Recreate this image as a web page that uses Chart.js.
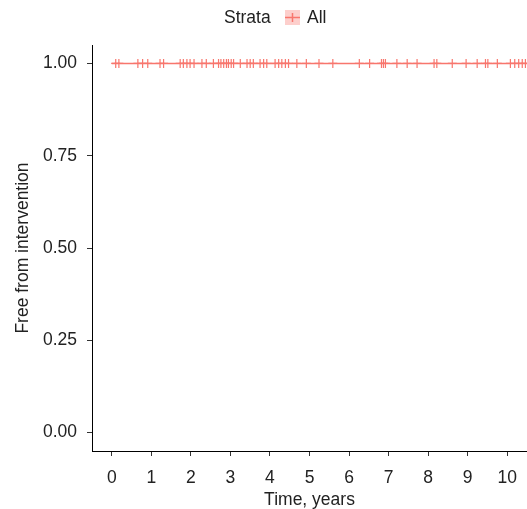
<!DOCTYPE html>
<html>
<head>
<meta charset="utf-8">
<script src="https://cdn.jsdelivr.net/npm/chart.js@4"></script>
<style>
  html, body { margin: 0; padding: 0; background: #fff; }
  #wrap { width: 527px; height: 509px; }
</style>
</head>
<body>
<div id="wrap"><canvas id="km"></canvas></div>
<script>
// KM curve (no events, stays at 1)
const kmTimes = [0, 10.5];
const kmSurv = [1, 1];
// censor marks
const censorTimes = [0.1, 0.18, 0.66, 0.78, 0.91, 1.22, 1.31, 1.73, 1.81, 1.9, 1.98, 2.08,
  2.28, 2.39, 2.57, 2.7, 2.76, 2.83, 2.9, 2.95, 3.02, 3.08, 3.25, 3.42, 3.5, 3.58,
  3.75, 3.84, 3.92, 4.13, 4.22, 4.3, 4.39, 4.47, 4.68, 4.92, 5.24, 5.59, 6.26, 6.52,
  6.82, 6.87, 6.92, 7.21, 7.47, 7.72, 8.15, 8.22, 8.61, 8.96, 9.24, 9.45, 9.51, 9.75,
  10.08, 10.19, 10.29, 10.38, 10.46];
const censorSurv = censorTimes.map(() => 1);
const xTicks = [0, 1, 2, 3, 4, 5, 6, 7, 8, 9, 10];
const yTicks = [0, 0.25, 0.5, 0.75, 1];
const RED = '#F8766D';
const FONT = 'Liberation Sans, Arial, sans-serif';
const FS = 17.5;

// legend drawn by hand, ggplot style
const strataLegend = {
  id: 'strataLegend',
  afterDraw(chart) {
    const ctx = chart.ctx;
    ctx.save();
    ctx.font = FS + 'px ' + FONT;
    ctx.fillStyle = '#222';
    ctx.textBaseline = 'middle';
    ctx.fillText('Strata', 224, 18);
    ctx.fillStyle = 'rgba(248,118,109,0.35)';
    ctx.fillRect(285, 10, 15, 15);
    ctx.strokeStyle = RED;
    ctx.lineWidth = 1.5;
    ctx.beginPath();
    ctx.moveTo(285, 17.5); ctx.lineTo(300, 17.5);
    ctx.moveTo(292.5, 13); ctx.lineTo(292.5, 22);
    ctx.stroke();
    ctx.fillStyle = '#222';
    ctx.fillText('All', 307, 18);
    ctx.restore();
  }
};

new Chart(document.getElementById('km'), {
  type: 'scatter',
  data: {
    datasets: [
      {
        label: 'All',
        data: kmTimes.map((t, i) => ({ x: t, y: kmSurv[i] })),
        showLine: true,
        stepped: 'before',
        borderColor: RED,
        borderWidth: 1.6,
        pointRadius: 0
      },
      {
        label: 'censor',
        data: censorTimes.map((t, i) => ({ x: t, y: censorSurv[i] })),
        showLine: false,
        pointStyle: 'cross',
        pointRadius: 4.5,
        borderColor: RED,
        borderWidth: 1.2
      }
    ]
  },
  options: {
    responsive: true,
    maintainAspectRatio: false,
    animation: false,
    layout: { autoPadding: false, padding: { top: 45, right: 0, left: 0, bottom: 0 } },
    plugins: { legend: { display: false }, tooltip: { enabled: false } },
    scales: {
      x: {
        type: 'linear',
        min: -0.5,
        max: 10.5,
        afterBuildTicks: s => { s.ticks = xTicks.map(v => ({ value: v })); },
        afterFit: s => { s.height = 58; s.paddingLeft = 0; s.paddingRight = 0; },
        grid: { drawOnChartArea: false, drawTicks: true, tickLength: 5, color: '#333' },
        border: { color: '#000', width: 1 },
        ticks: { color: '#222', font: { family: FONT, size: FS }, padding: 12, maxRotation: 0 },
        title: { display: true, text: 'Time, years', color: '#222', font: { family: FONT, size: FS }, padding: { top: 0, bottom: -2 } }
      },
      y: {
        type: 'linear',
        min: -0.05,
        max: 1.05,
        afterBuildTicks: s => { s.ticks = yTicks.map(v => ({ value: v })); },
        afterFit: s => { s.width = 92; s.paddingTop = 0; s.paddingBottom = 0; },
        grid: { drawOnChartArea: false, drawTicks: true, tickLength: 5, color: '#333' },
        border: { color: '#000', width: 1 },
        ticks: { color: '#222', font: { family: FONT, size: FS }, padding: 10, callback: v => v.toFixed(2) },
        title: { display: true, text: 'Free from intervention', color: '#222', font: { family: FONT, size: FS }, padding: { top: 13, bottom: 0 } }
      }
    }
  },
  plugins: [strataLegend]
});
</script>
</body>
</html>
